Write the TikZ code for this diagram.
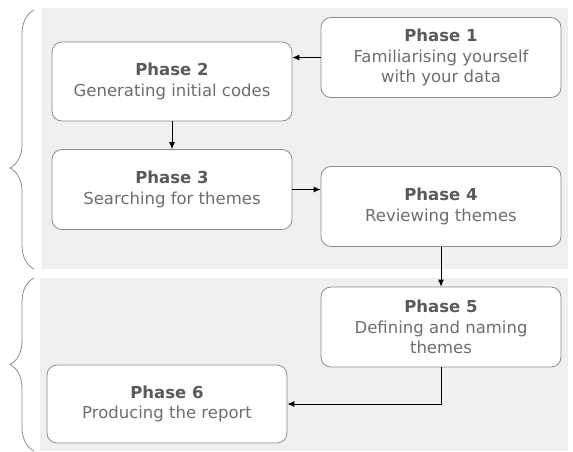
\documentclass[tikz,border=0pt]{standalone}
\usepackage{fontspec}
\setmainfont{DejaVu Sans}
\usepackage{tikz}
\definecolor{panel}{RGB}{240, 240, 240}
\definecolor{edge}{RGB}{140, 140, 140}
\definecolor{headtext}{RGB}{90, 90, 90}
\definecolor{bodytext}{RGB}{110, 110, 110}
\usetikzlibrary{positioning}
\usetikzlibrary{decorations.pathreplacing}
\usetikzlibrary{arrows.meta}

\tikzset{
  phasebox/.style={draw=edge, fill=white, rounded corners=10pt, line width=0.8pt,
    minimum width=240pt, minimum height=80pt, align=center, text=bodytext,
    font=\fontsize{16.5}{20.5}\selectfont, inner sep=2pt},
  flow/.style={-{Latex[length=7pt,width=6pt]}, line width=0.8pt, color=black},
  curly/.style={decorate, decoration={brace, amplitude=24pt}, draw=edge, line width=0.8pt}
}
\newcommand{\phasehead}[1]{{\bfseries\color{headtext}Phase #1}}

\begin{document}
\begin{tikzpicture}[x=1pt, y=1pt]
\useasboundingbox (0pt, 0pt) rectangle (573pt, -451pt);
% background panels
\fill [panel] (42pt, -8pt) rectangle (568pt, -269pt);
\fill [panel] (40pt, -278pt) rectangle (568pt, -451pt);
% braces
\coordinate (b1s) at (34pt, -269pt);
\coordinate (b1e) at (34pt, -10pt);
\coordinate (b2s) at (34pt, -451pt);
\coordinate (b2e) at (34pt, -278pt);
\draw [curly, decoration={aspect=0.39}] (b1s) -- (b1e);
\draw [curly, decoration={aspect=0.5}] (b2s) -- (b2e);
% phases
\node (p1) [phasebox] at (441pt, -57.5pt) {\phasehead{1}\\Familiarising yourself\\with your data};
\node (p2) [phasebox, minimum height=79pt] at (172pt, -81.5pt) {\phasehead{2}\\Generating initial codes};
\node (p3) [phasebox] at (172pt, -189.5pt) {\phasehead{3}\\Searching for themes};
\node (p4) [phasebox] at (441pt, -206.5pt) {\phasehead{4}\\Reviewing themes};
\node (p5) [phasebox] at (441pt, -327pt) {\phasehead{5}\\Defining and naming\\themes};
\node (p6) [phasebox, minimum height=78pt] at (167pt, -404pt) {\phasehead{6}\\Producing the report};
% connectors
\draw [flow] (p1.west) -- (p2.east |- p1.west);
\draw [flow] (p2) -- (p3);
\draw [flow] (p3.east) -- (p4.west |- p3.east);
\draw [flow] (p4) -- (p5);
\draw [flow] (p5.south) |- (p6.east);
\end{tikzpicture}
\end{document}
